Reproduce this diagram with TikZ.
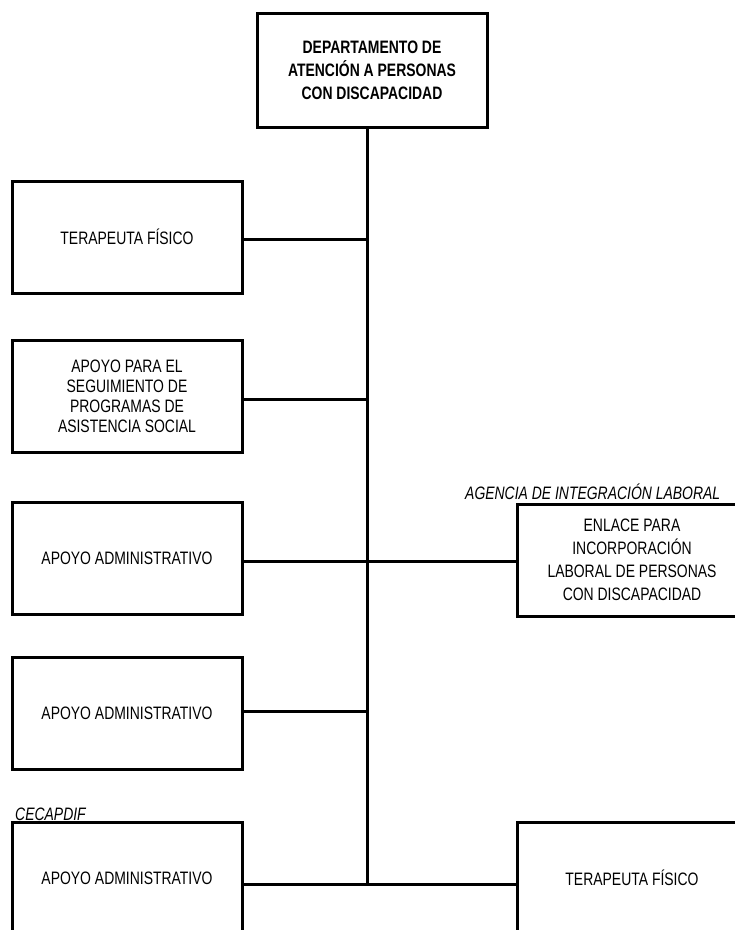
\documentclass[tikz,border=0pt]{standalone}
\usepackage{fontspec}
\setmainfont{Liberation Sans}[FakeStretch=0.775]
\begin{document}
\begin{tikzpicture}[x=1pt,y=-1pt,
  box/.style={draw=black, line width=3pt, minimum width=230pt, minimum height=112pt,
    inner sep=0pt, align=center, font=\fontsize{18}{20}\selectfont},
  link/.style={draw=black, line width=3pt},
  tag/.style={inner sep=0pt, font=\fontsize{18}{20}\selectfont\itshape}]
\useasboundingbox (0,0) rectangle (735,930);
\clip (0,0) rectangle (735,930);
% boxes
\node[box, minimum height=114pt, font=\fontsize{18}{23}\selectfont\bfseries] (top) at (372,70)
  {DEPARTAMENTO DE\\ATENCIÓN A PERSONAS\\CON DISCAPACIDAD};
\node[box] (b1) at (127,237) {TERAPEUTA FÍSICO};
\node[box] (b2) at (127,396) {APOYO PARA EL\\SEGUIMIENTO DE\\PROGRAMAS DE\\ASISTENCIA SOCIAL};
\node[box] (b3) at (127,558) {APOYO ADMINISTRATIVO};
\node[box] (b4) at (127,713) {APOYO ADMINISTRATIVO};
\node[box] (b5) at (127,878) {APOYO ADMINISTRATIVO};
\node[box, font=\fontsize{18}{23}\selectfont] (r1) at (632,560)
  {ENLACE PARA\\INCORPORACIÓN\\LABORAL DE PERSONAS\\CON DISCAPACIDAD};
\node[box] (r2) at (632,878) {TERAPEUTA FÍSICO};
% labels
\node[tag, anchor=base west] (agencia) at (465,499) {AGENCIA DE INTEGRACIÓN LABORAL};
\node[tag, anchor=base west] (cecap) at (15,820) {CECAPDIF};
% junctions on the spine
\coordinate (j1) at (367,239);
\coordinate (j2) at (367,399);
\coordinate (j3) at (367,561);
\coordinate (j4) at (367,711);
\coordinate (j5) at (367,884);
% connectors
\draw[link] (top.south -| j5) -- (j5);
\draw[link] (b1.east |- j1) -- (j1);
\draw[link] (b2.east |- j2) -- (j2);
\draw[link] (b3.east |- j3) -- (r1.west |- j3);
\draw[link] (b4.east |- j4) -- (j4);
\draw[link] (b5.east |- j5) -- (r2.west |- j5);
\end{tikzpicture}
\end{document}
